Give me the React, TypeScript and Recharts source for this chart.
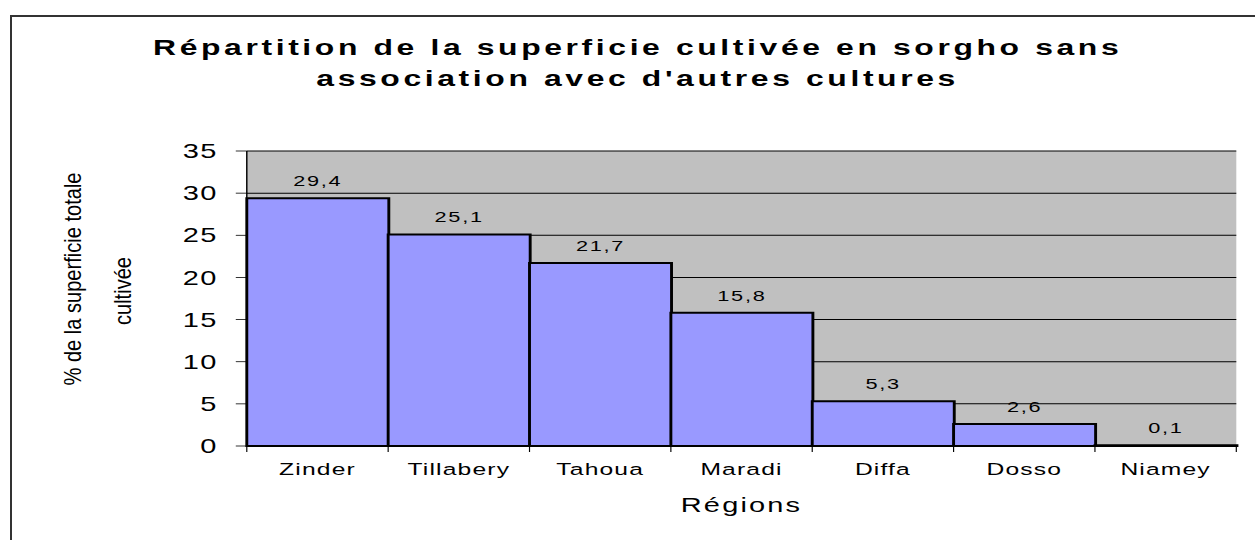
import React from 'react';
import { BarChart, Bar, XAxis, YAxis, CartesianGrid, LabelList } from 'recharts';

const regions = ['Zinder', 'Tillabery', 'Tahoua', 'Maradi', 'Diffa', 'Dosso', 'Niamey'];
const values = [29.4, 25.1, 21.7, 15.8, 5.3, 2.6, 0.1];
const yTicks = [0, 5, 10, 15, 20, 25, 30, 35];
const titleLines = ['Répartition de la superficie cultivée en sorgho sans', "association avec d'autres cultures"];
const yLabelLines = ['% de la superficie totale', 'cultivée'];
const xLabel = 'Régions';

const data = regions.map((r, i) => ({ region: r, value: values[i] }));

const SCALE = 1255 / 866;
const FONT = '"Liberation Sans", Arial, sans-serif';

const CatTick = (props: any) => {
  const { x, y, payload, index, visibleTicksCount, width } = props;
  const half = payload && typeof payload.offset === 'number' && payload.offset > 0
    ? payload.offset
    : width / visibleTicksCount / 2;
  return (
    <g>
      <line x1={x - half} x2={x - half} y1={y} y2={y + 6} stroke="#000" strokeWidth={0.8} />
      {index === visibleTicksCount - 1 && (
        <line x1={x + half} x2={x + half} y1={y} y2={y + 6} stroke="#000" strokeWidth={0.8} />
      )}
      <text x={x} y={y + 29} textAnchor="middle" fontSize={17} fill="#000" letterSpacing={0.8} fontFamily={FONT}>
        {payload.value}
      </text>
    </g>
  );
};

export default function App() {
  return (
    <div style={{ position: 'absolute', left: 0, top: 0, width: 1255, height: 540, overflow: 'hidden', background: '#fff', fontFamily: FONT }}>
      <div style={{ position: 'absolute', left: 10, top: 15, width: 1400, height: 700, borderLeft: '2px solid #333', borderTop: '2px solid #333' }} />
      <div style={{ position: 'absolute', left: 0, top: 0, width: 866, height: 540, transform: `scaleX(${SCALE})`, transformOrigin: '0 0' }}>
        <BarChart
          width={866}
          height={540}
          data={data}
          barCategoryGap={0}
          margin={{ top: 151, right: 12.9, bottom: 24, left: 110.3 }}
        >
          <CartesianGrid vertical={false} stroke="#000" strokeWidth={1} fill="#C0C0C0" fillOpacity={1} />
          <XAxis
            dataKey="region"
            interval={0}
            height={70}
            tickLine={false}
            tickSize={0}
            tickMargin={0}
            axisLine={{ stroke: '#000', strokeWidth: 1 }}
            tick={<CatTick />}
            label={{ value: xLabel, position: 'insideBottom', offset: 4, fontSize: 20, fill: '#000', letterSpacing: 1.5 }}
          />
          <XAxis
            xAxisId="top"
            dataKey="region"
            orientation="top"
            height={0}
            tick={false}
            tickLine={false}
            axisLine={{ stroke: '#808080', strokeWidth: 1.5 }}
          />
          <YAxis
            domain={[0, 35]}
            ticks={yTicks}
            width={60}
            tickSize={7.6}
            tickMargin={12.4}
            tickLine={{ stroke: '#000', strokeWidth: 0.8 }}
            axisLine={{ stroke: '#000', strokeWidth: 1 }}
            tick={{ fontSize: 20, fill: '#000', letterSpacing: 1 }}
          />
          <YAxis
            yAxisId="right"
            orientation="right"
            dataKey="value"
            domain={[0, 35]}
            width={0}
            tick={false}
            tickLine={false}
            axisLine={{ stroke: '#808080', strokeWidth: 1.6 }}
          />
          <Bar dataKey="value" fill="#9999FF" stroke="#000" strokeWidth={2} isAnimationActive={false}>
            <LabelList
              dataKey="value"
              position="top"
              offset={12}
              formatter={(v: any) => String(v).replace('.', ',')}
              fontSize={15}
              fill="#000"
              letterSpacing={1.2}
            />
          </Bar>
        </BarChart>
        <svg width={866} height={540} style={{ position: 'absolute', left: 0, top: 0, pointerEvents: 'none' }}>
          <text x={440} y={55} textAnchor="middle" fontSize={22} fontWeight="bold" letterSpacing={2.5} fill="#000" fontFamily={FONT}>
            {titleLines[0]}
          </text>
          <text x={440} y={86} textAnchor="middle" fontSize={22} fontWeight="bold" letterSpacing={2.5} fill="#000" fontFamily={FONT}>
            {titleLines[1]}
          </text>
          <text
            x={50.4}
            y={279}
            transform="rotate(-90 50.4 279)"
            textAnchor="middle"
            dominantBaseline="central"
            fontSize={16}
            fill="#000"
            textLength={213}
            lengthAdjust="spacingAndGlyphs"
            fontFamily={FONT}
          >
            {yLabelLines[0]}
          </text>
          <text
            x={85}
            y={291}
            transform="rotate(-90 85 291)"
            textAnchor="middle"
            dominantBaseline="central"
            fontSize={16}
            fill="#000"
            textLength={68}
            lengthAdjust="spacingAndGlyphs"
            fontFamily={FONT}
          >
            {yLabelLines[1]}
          </text>
        </svg>
      </div>
    </div>
  );
}
